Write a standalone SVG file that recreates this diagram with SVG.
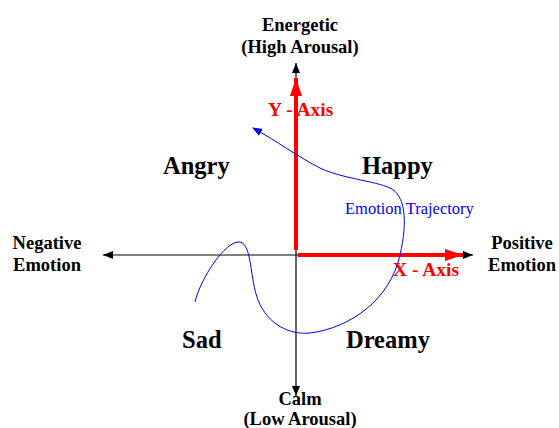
<svg xmlns="http://www.w3.org/2000/svg" width="559" height="428" viewBox="0 0 559 428">
<defs>
<marker id="blk" markerWidth="10" markerHeight="8" refX="10" refY="4" orient="auto" markerUnits="userSpaceOnUse"><path d="M0,0 L10,4 L0,8 Z" fill="#000"/></marker>
<marker id="red" markerWidth="18" markerHeight="12" refX="18" refY="6" orient="auto" markerUnits="userSpaceOnUse"><path d="M0,0 L18,6 L0,12 Z" fill="#ff0000"/></marker>
<marker id="blu" markerWidth="10" markerHeight="8" refX="9" refY="4" orient="auto" markerUnits="userSpaceOnUse"><path d="M0,0 L10,4 L0,8 Z" fill="#0000ff"/></marker>
</defs>
<style>
.lbl{font-family:"Liberation Serif","Times New Roman",serif;font-weight:bold;fill:#000}
.big{font-size:24.5px}
.mid{font-size:18.5px}
.ax{font-family:"Liberation Serif","Times New Roman",serif;font-weight:bold;font-size:19.5px;fill:#ff0000}
.traj{font-family:"Liberation Serif","Times New Roman",serif;font-size:16.5px;fill:#0000ff}
</style>
<g id="connectors">
<line x1="296" y1="255" x2="473" y2="255" stroke="#000" stroke-width="1.2" marker-end="url(#blk)"/>
<line x1="296" y1="255" x2="103" y2="255" stroke="#000" stroke-width="1.2" marker-end="url(#blk)"/>
<line x1="296" y1="255" x2="296" y2="63" stroke="#000" stroke-width="1.2" marker-end="url(#blk)"/>
<line x1="296" y1="255" x2="296" y2="396" stroke="#000" stroke-width="1.2" marker-end="url(#blk)"/>
<line x1="296" y1="250" x2="296" y2="78" stroke="#ff0000" stroke-width="4" marker-end="url(#red)"/>
<line x1="298" y1="255" x2="463" y2="255" stroke="#ff0000" stroke-width="4" marker-end="url(#red)"/>
<path d="M195,302 C200,280 225,240 240,242 C252,244 250,280 258,300 C268,325 290,335 310,333 C350,328 390,300 400,255 C408,220 405,195 390,188 C375,181 340,178 320,168 C300,158 275,140 253,128" fill="none" stroke="#0000ff" stroke-width="1" marker-end="url(#blu)"/>
</g>
<g id="energetic"><text class="lbl mid" x="300" y="31" text-anchor="middle">Energetic</text><text class="lbl mid" x="300" y="53" text-anchor="middle">(High Arousal)</text></g>
<g id="calm"><text class="lbl mid" x="300" y="405" text-anchor="middle">Calm</text><text class="lbl mid" x="300" y="425" text-anchor="middle">(Low Arousal)</text></g>
<g id="negative"><text class="lbl mid" x="47" y="249" text-anchor="middle">Negative</text><text class="lbl mid" x="47" y="271" text-anchor="middle">Emotion</text></g>
<g id="positive"><text class="lbl mid" x="522" y="249" text-anchor="middle">Positive</text><text class="lbl mid" x="522" y="271" text-anchor="middle">Emotion</text></g>
<g id="angry"><text class="lbl big" x="163" y="174">Angry</text></g>
<g id="happy"><text class="lbl big" x="362" y="174">Happy</text></g>
<g id="sad"><text class="lbl big" x="182" y="348">Sad</text></g>
<g id="dreamy"><text class="lbl big" x="346" y="348">Dreamy</text></g>
<g id="yaxis"><text class="ax" x="268" y="116">Y - Axis</text></g>
<g id="xaxis"><text class="ax" x="393" y="276">X - Axis</text></g>
<g id="trajectory"><text class="traj" x="345" y="214">Emotion Trajectory</text></g>
</svg>
